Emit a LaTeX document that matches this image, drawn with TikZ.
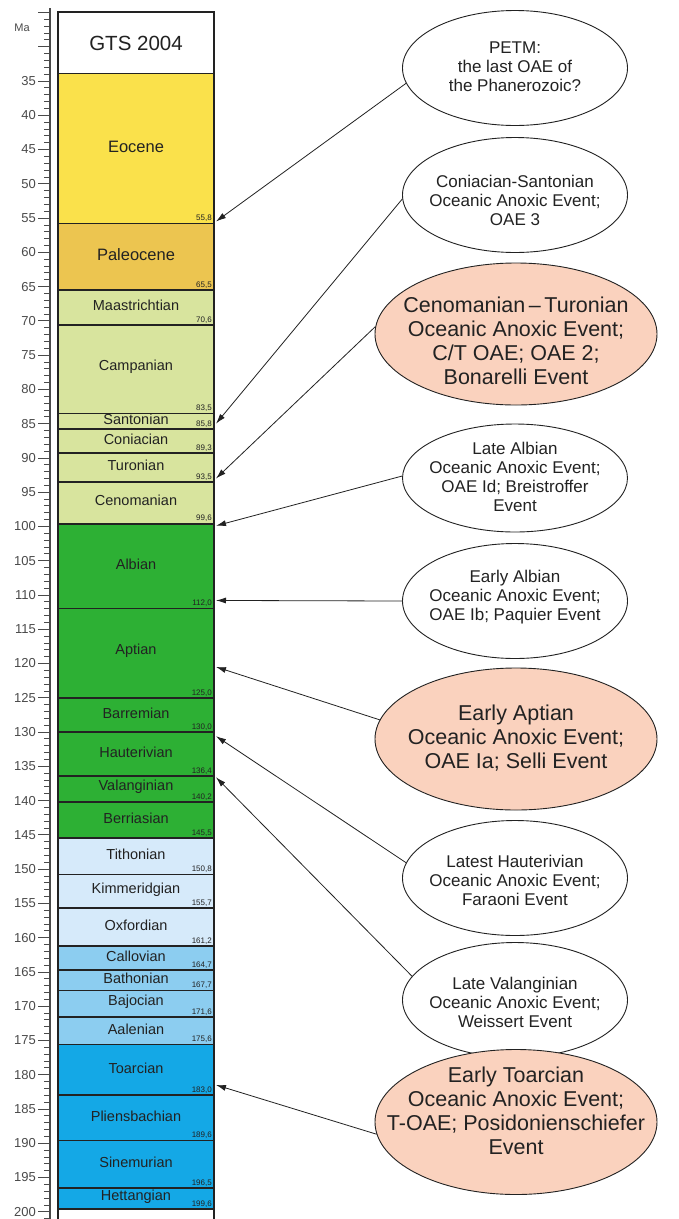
\documentclass[tikz,border=0pt]{standalone}
\usepackage{fontspec}
\setmainfont{Liberation Sans}
\usetikzlibrary{shapes.geometric,arrows.meta}

\definecolor{eocene}{HTML}{FAE14B}
\definecolor{paleocene}{HTML}{ECC550}
\definecolor{latecret}{HTML}{D8E49E}
\definecolor{earlycret}{HTML}{2DB034}
\definecolor{latejur}{HTML}{D6EAFA}
\definecolor{midjur}{HTML}{8CCDF0}
\definecolor{earlyjur}{HTML}{14A8E6}
\definecolor{oaehi}{HTML}{FAD2BE}
\definecolor{inkgray}{HTML}{222222}
\definecolor{axisgray}{HTML}{4A4A4A}

\newcommand{\maY}[1]{81+(#1-35)*6.853}

\begin{document}
\begin{tikzpicture}[x=1pt,y=-1pt,
    stageline/.style={draw=inkgray,line width=1.6pt},
    stagename/.style={text=inkgray,inner sep=0pt},
    agenum/.style={font=\fontsize{8}{8}\selectfont,text=inkgray,anchor=south east,inner sep=0pt},
    axisnum/.style={font=\fontsize{13}{13}\selectfont,text=axisgray,anchor=east,inner sep=0pt},
    event/.style={ellipse,draw=inkgray,line width=0.9pt,fill=white,inner sep=0pt,
      minimum width=225pt,minimum height=115pt},
    bigevent/.style={event,fill=oaehi,minimum width=282pt,minimum height=142pt},
    eventtext/.style={align=center,inner sep=0pt,text=inkgray,font=\fontsize{17}{19}\selectfont},
    bigeventtext/.style={eventtext,font=\fontsize{21.5}{24}\selectfont},
    pointer/.style={-{Latex[length=10pt,width=6pt]},line width=0.8pt,draw=inkgray}]
  \fill[white] (0,0) rectangle (678,1219);
  \useasboundingbox (0,0) rectangle (678,1219);

  % Ma scale
  \draw[line width=1.2pt,axisgray] (50,8) -- (50,1219);
  \foreach \m in {25,...,201}
    \draw[line width=0.8pt,axisgray] (44,{\maY{\m}}) -- (50,{\maY{\m}});
  \foreach \m in {25,30,...,200}
    \draw[line width=0.8pt,axisgray] (38,{\maY{\m}}) -- (50,{\maY{\m}});
  \foreach \m in {35,40,...,200}
    \node[axisnum] (tick\m) at (36,{\maY{\m}}) {\m};
  \node[font=\fontsize{11}{11}\selectfont,text=axisgray,inner sep=0pt] (unit) at (22,28) {Ma};

  % column
  \draw[stageline,fill=white] (58,12) rectangle (214,{\maY{33.9}});
  \node[font=\fontsize{20.5}{21}\selectfont,text=inkgray] (gts) at (136,43) {GTS 2004};
  \foreach \mtop/\mbot/\name/\col/\fs in {
      33.9/55.8/Eocene/eocene/16.5,
      55.8/65.5/Paleocene/paleocene/16.5,
      65.5/70.6/Maastrichtian/latecret/14.5,
      70.6/83.5/Campanian/latecret/14.5,
      83.5/85.8/Santonian/latecret/14.5,
      85.8/89.3/Coniacian/latecret/14.5,
      89.3/93.5/Turonian/latecret/14.5,
      93.5/99.6/Cenomanian/latecret/14.5,
      99.6/112.0/Albian/earlycret/14.5,
      112.0/125.0/Aptian/earlycret/14.5,
      125.0/130.0/Barremian/earlycret/14.5,
      130.0/136.4/Hauterivian/earlycret/14.5,
      136.4/140.2/Valanginian/earlycret/14.5,
      140.2/145.5/Berriasian/earlycret/14.5,
      145.5/150.8/Tithonian/latejur/14.5,
      150.8/155.7/Kimmeridgian/latejur/14.5,
      155.7/161.2/Oxfordian/latejur/14.5,
      161.2/164.7/Callovian/midjur/14.5,
      164.7/167.7/Bathonian/midjur/14.5,
      167.7/171.6/Bajocian/midjur/14.5,
      171.6/175.6/Aalenian/midjur/14.5,
      175.6/183.0/Toarcian/earlyjur/14.5,
      183.0/189.6/Pliensbachian/earlyjur/14.5,
      189.6/196.5/Sinemurian/earlyjur/14.5,
      196.5/199.6/Hettangian/earlyjur/14.5}{
    \draw[stageline,fill=\col] (58,{\maY{\mtop}}) rectangle (214,{\maY{\mbot}});
    \node[stagename,font=\fontsize{\fs}{\fs}\selectfont] (\name)
      at (136,{(\maY{\mtop}+\maY{\mbot})/2-2}) {\name};
    \node[agenum] (\name-age) at (212,{\maY{\mbot}-1.5})
      {\pgfmathprintnumber[fixed,fixed zerofill,precision=1,use comma,assume math mode=true]{\mbot}};
  }
  \draw[line width=1.6pt,inkgray] (58,12) -- (58,1225) (214,12) -- (214,1225);

  % events
  \node[event] (petm) at (515,68) {};
  \node[eventtext] (petm-text) at (515,67) {PETM:\\the last OAE of\\the Phanerozoic?};
  \node[event] (oae3) at (515,195) {};
  \node[eventtext] (oae3-text) at (515,200) {Coniacian-Santonian\\Oceanic Anoxic Event;\\OAE 3};
  \node[bigevent] (oae2) at (516,334) {};
  \node[bigeventtext] (oae2-text) at (516,341) {Cenomanian\,–\,Turonian\\Oceanic Anoxic Event;\\C/T OAE; OAE 2;\\Bonarelli Event};
  \node[event,minimum height=108pt] (oae1d) at (515,478) {};
  \node[eventtext] (oae1d-text) at (515,477) {Late Albian\\Oceanic Anoxic Event;\\OAE Id; Breistroffer\\Event};
  \node[event] (oae1b) at (515,601) {};
  \node[eventtext] (oae1b-text) at (515,597) {Early Albian\\Oceanic Anoxic Event;\\OAE Ib; Paquier Event};
  \node[bigevent] (oae1a) at (516,739) {};
  \node[bigeventtext] (oae1a-text) at (516,738) {Early Aptian\\Oceanic Anoxic Event;\\OAE Ia; Selli Event};
  \node[event] (faraoni) at (515,878) {};
  \node[eventtext] (faraoni-text) at (515,880) {Latest Hauterivian\\Oceanic Anoxic Event;\\Faraoni Event};
  \node[event] (weissert) at (515,1000) {};
  \node[eventtext] (weissert-text) at (515,1002) {Late Valanginian\\Oceanic Anoxic Event;\\Weissert Event};
  \node[bigevent,minimum height=145pt] (toae) at (516,1122) {};
  \node[bigeventtext] (toae-text) at (516,1111) {Early Toarcian\\Oceanic Anoxic Event;\\T-OAE; Posidonienschiefer\\Event};

  \coordinate (hit-petm) at (216,{\maY{55.5}});
  \coordinate (hit-oae3) at (216,{\maY{85}});
  \coordinate (hit-oae2) at (216,{\maY{93}});
  \coordinate (hit-oae1d) at (216,{\maY{99.9}});
  \coordinate (hit-oae1b) at (216,{\maY{110.8}});
  \coordinate (hit-oae1a) at (216,{\maY{120.5}});
  \coordinate (hit-faraoni) at (216,{\maY{130.6}});
  \coordinate (hit-weissert) at (216,{\maY{136.6}});
  \coordinate (hit-toae) at (216,{\maY{181.5}});

  \draw[pointer] (petm.188) -- (hit-petm);
  \draw[pointer] (oae3.182) -- (hit-oae3);
  \draw[pointer] (oae2.177) -- (hit-oae2);
  \draw[pointer] (oae1d.179) -- (hit-oae1d);
  \draw[pointer] (oae1b.180) -- (hit-oae1b);
  \draw[pointer] (oae1a.172) -- (hit-oae1a);
  \draw[pointer] (faraoni.172) -- (hit-faraoni);
  \draw[pointer] (weissert.167) -- (hit-weissert);
  \draw[pointer] (toae.185) -- (hit-toae);
\end{tikzpicture}
\end{document}
